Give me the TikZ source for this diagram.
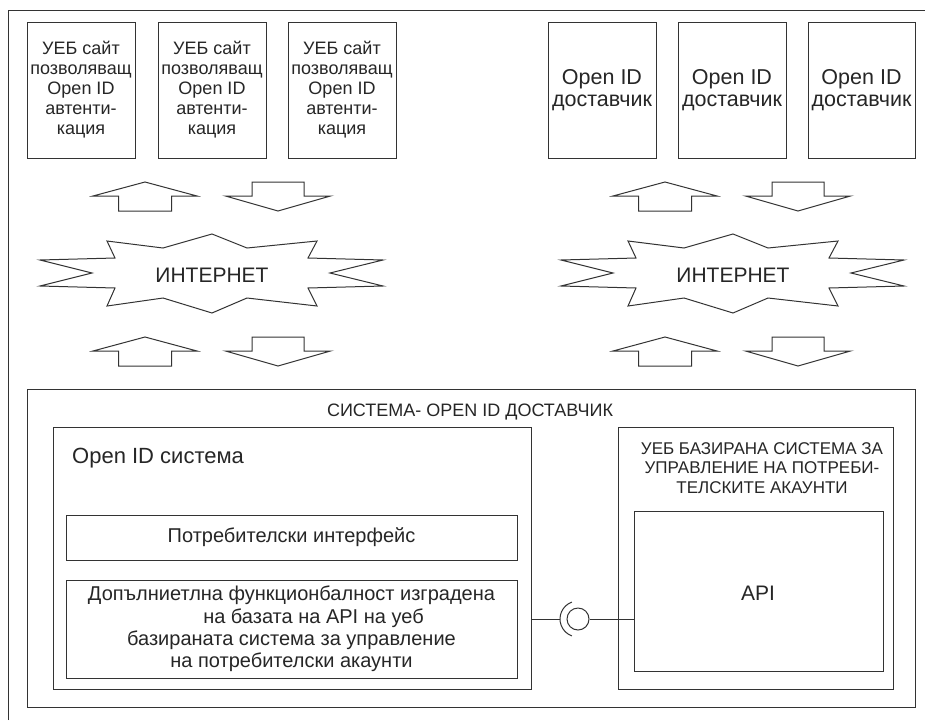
\documentclass[tikz,border=0pt]{standalone}
\usepackage{fontspec}
\setmainfont{Liberation Sans}
\newcommand\fsz[2]{\fontsize{#1pt}{#2pt}\selectfont}
\begin{document}
\begin{tikzpicture}[x=1pt,y=-1pt,
  ln/.style={draw=black!80, line width=1pt},
  box/.style={ln, rectangle, inner sep=0pt, text=black!85, align=center},
  lbl/.style={inner sep=0pt, text=black!85, align=center},
  uparr/.pic={\draw[ln] (0,0) -- (52,14) -- (26.5,14) -- (26.5,29) -- (-26.5,29) -- (-26.5,14) -- (-52,14) -- cycle;},
  dnarr/.pic={\draw[ln] (0,29) -- (52.5,14) -- (26,14) -- (26,0) -- (-26,0) -- (-26,14) -- (-52.5,14) -- cycle;},
  burst/.pic={\draw[ln] (-105,-32) -- (-49,-25) -- (0,-39) -- (35,-25) -- (105,-32) -- (96,-15) -- (171,-13) -- (118,0) -- (171,13) -- (96,15) -- (105,33) -- (35,25) -- (0,40) -- (-49,25) -- (-105,33) -- (-97,15) -- (-172,13) -- (-120,0) -- (-172,-13) -- (-97,-15) -- cycle;}
]
\useasboundingbox (0,0) rectangle (925,720);
\fill[white] (0,0) rectangle (925,720);
% outer frame (only left and top edges visible)
\draw[ln] (8,720) -- (8,10) -- (925,10);

% web sites
\foreach \n/\x in {w1/81, w2/212, w3/342}{
  \node[box, minimum width=108pt, minimum height=136pt, font=\fsz{18}{20}] (\n) at (\x,90)
    {УЕБ сайт\\позволяващ\\Open ID\\автенти-\\кация};
}
% providers
\foreach \n/\x/\w in {p1/602/108, p2/732/108, p3/861.5/107}{
  \node[box, minimum width=\w pt, minimum height=136pt, font=\fsz{21.5}{22}] (\n) at (\x,90)
    {Open ID\\доставчик};
}

% arrows
\foreach \dx in {0,520}{
  \pic at (145+\dx,182) {uparr};
  \pic at (278+\dx,182) {dnarr};
  \pic at (145+\dx,337) {uparr};
  \pic at (278+\dx,337) {dnarr};
}

% internet bursts
\pic at (212,273) {burst};
\pic at (733,273) {burst};
\node[lbl, font=\fsz{21}{22}] (inetL) at (212,275) {ИНТЕРНЕТ};
\node[lbl, font=\fsz{21}{22}] (inetR) at (733,275) {ИНТЕРНЕТ};

% system
\node[box, minimum width=888pt, minimum height=318pt] (sys) at (471,548) {};
\node[lbl, font=\fsz{18}{20}] (sysT) at (470,412) {СИСТЕМА- OPEN ID ДОСТАВЧИК};

\node[box, minimum width=478pt, minimum height=262pt] (osys) at (292,558) {};
\node[lbl, anchor=west, font=\fsz{22}{24}] (osysT) at (72,458) {Open ID система};

\node[box, minimum width=451pt, minimum height=45pt, font=\fsz{20}{22}] (ui) at (291.5,537.5) {Потребителски интерфейс};
\node[box, minimum width=451pt, minimum height=98pt, font=\fsz{20}{22.3}] (ext) at (291.5,629)
  {Допълниетлна функционбалност изградена\\\hspace*{44pt}на базата на API на уеб\\базираната система за управление\\на потребителски акаунти};

\node[box, minimum width=275pt, minimum height=262pt] (acc) at (755.5,558) {};
\node[lbl, font=\fsz{17}{19.5}] (accT) at (762,468) {УЕБ БАЗИРАНА СИСТЕМА ЗА\\УПРАВЛЕНИЕ НА ПОТРЕБИ-\\ТЕЛСКИТЕ АКАУНТИ};

\node[box, minimum width=249pt, minimum height=160pt] (api) at (758.5,591) {};
\node[lbl, font=\fsz{21}{22}] (apiT) at (758,593) {API};

% ball and socket
\node[circle, ln, minimum size=22pt, inner sep=0pt] (ball) at (578,619) {};
\coordinate (sockL) at (560,619);
\draw[ln] (ball.center) ++(110:18pt) arc[start angle=110, end angle=250, radius=18pt];
\draw[ln] (osys.east |- ball) -- (sockL);
\draw[ln] (ball.east) -- (api.west |- ball);
\end{tikzpicture}
\end{document}
